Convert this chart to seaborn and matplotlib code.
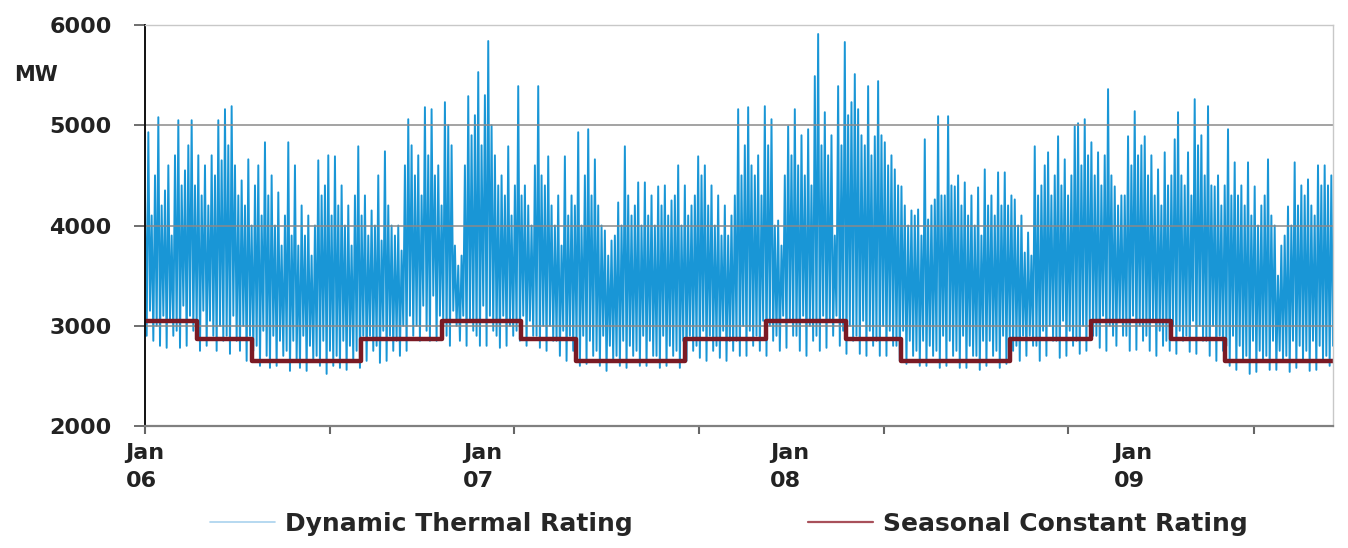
import numpy as np
import pandas as pd
import matplotlib
matplotlib.use("Agg")
import matplotlib.pyplot as plt
import seaborn as sns
from matplotlib.lines import Line2D

# ---------------- data ----------------
start_date = "2006-01-01"
end_date = "2009-08-31"

dtr_mw = [
    4300, 2900, 4930, 3150, 4100, 2850,  4500, 3000, 5080, 2800, 4200, 3100,
    4350, 2780, 4600, 3050, 3900, 2900,  4700, 2950, 5050, 2780, 4400, 3200,
    4550, 2800, 4800, 3100, 5050, 2950,  4400, 3000, 4700, 2750, 4300, 3150,
    4600, 2800, 4200, 3050, 4700, 2900,  4500, 2750, 5050, 3000, 4650, 2850,
    5160, 2900, 4800, 2720, 5190, 3100,  4600, 2850, 4300, 2750, 4450, 3000,
    4200, 2650, 4660, 2900, 4000, 2750,  4400, 2800, 4600, 2600, 4100, 2950,
    4830, 2700, 4300, 2580, 4500, 2900,  4000, 2600, 4330, 2850, 3800, 2700,
    4100, 2750, 4830, 2550, 3900, 2850,  4600, 2650, 3800, 2580, 4200, 2900,
    3900, 2550, 4100, 2800, 3700, 2650,  4000, 2700, 4650, 2600, 4300, 2850,
    4400, 2520, 4700, 2750, 4100, 2600,  4690, 2700, 4200, 2580, 4400, 2850,
    4000, 2560, 4200, 2800, 3800, 2650,  4300, 2750, 4790, 2580, 4100, 2900,
    4300, 2650, 3900, 2900, 4150, 2750,  4000, 2800, 4500, 2630, 3850, 2950,
    4740, 2650, 4200, 2900, 4000, 2750,  3900, 2850, 4000, 2700, 3750, 3000,
    4600, 2750, 5060, 3100, 4800, 2900,  4500, 3000, 4700, 2850, 4300, 3200,
    5180, 2950, 4700, 2850, 5160, 3300,  4500, 2850, 4600, 3100, 4200, 3000,
    5230, 2900, 5000, 2800, 4800, 3150,  3800, 3000, 3600, 2850, 3700, 3100,
    4600, 2800, 5290, 3050, 4900, 2950,  5100, 2900, 5530, 2800, 4800, 3200,
    5300, 2800, 5840, 3100, 5000, 2950,  4700, 2900, 4400, 2780, 4500, 3100,
    4300, 2800, 4790, 3000, 4100, 2900,  4400, 2950, 5390, 2850, 4300, 3100,
    4400, 2800, 4200, 3050, 4000, 2900,  4600, 2900, 5390, 2780, 4500, 3000,
    4400, 2750, 4690, 3000, 4200, 2850,  4000, 2850, 4300, 2700, 3800, 2950,
    4690, 2650, 4100, 2900, 4300, 2750,  4200, 2800, 4930, 2600, 4000, 2900,
    4500, 2620, 4960, 2850, 4300, 2700,  4660, 2750, 4200, 2600, 4000, 2900,
    3950, 2550, 3700, 2800, 3850, 2650,  3900, 2700, 4230, 2600, 4000, 2850,
    4790, 2580, 4300, 2800, 4100, 2700,  4200, 2750, 4430, 2600, 4000, 2900,
    4430, 2600, 4100, 2850, 4300, 2700,  4000, 2700, 4390, 2580, 4200, 2900,
    4400, 2600, 4100, 2800, 4250, 2700,  4300, 2750, 4600, 2580, 4000, 2850,
    4400, 2650, 4100, 2900, 4200, 2750,  4300, 2800, 4690, 2680, 4500, 2950,
    4600, 2650, 4200, 2900, 4400, 2750,  4000, 2800, 4300, 2680, 3900, 2950,
    4200, 2650, 3900, 2850, 4100, 2750,  4300, 2850, 5160, 2700, 4500, 3000,
    4800, 2700, 5180, 2950, 4600, 2800,  4500, 2900, 4700, 2750, 4300, 3050,
    5190, 2700, 4800, 3000, 5060, 2850,  4000, 2900, 4050, 2750, 3800, 3100,
    4500, 2780, 4990, 3050, 4700, 2900,  5160, 2900, 4600, 2750, 4900, 3100,
    4500, 2700, 4960, 3000, 4400, 2850,  5490, 2900, 5910, 2750, 4800, 3100,
    5130, 2780, 4700, 3050, 4900, 2900,  3900, 3100, 5390, 2800, 4800, 2950,
    5830, 2720, 5100, 3000, 5230, 2850,  5510, 2900, 5160, 2720, 4900, 3050,
    4800, 2700, 5390, 2950, 4700, 2800,  4890, 2850, 5440, 2700, 4900, 3000,
    4830, 2700, 4600, 2950, 4700, 2800,  4560, 2800, 4400, 2650, 4390, 2950,
    4200, 2620, 4000, 2850, 4150, 2700,  4100, 2750, 4160, 2600, 3900, 2850,
    4860, 2600, 4060, 2800, 4200, 2700,  4260, 2750, 5090, 2580, 4300, 2900,
    4300, 2600, 5090, 2850, 4400, 2700,  4390, 2750, 4500, 2580, 4200, 2900,
    4430, 2580, 4100, 2800, 4300, 2700,  4000, 2700, 4380, 2560, 3900, 2850,
    4560, 2600, 4200, 2850, 4300, 2700,  4100, 2750, 4530, 2580, 4200, 2900,
    4530, 2620, 4200, 2850, 4300, 2750,  4260, 2800, 4000, 2650, 4100, 2900,
    3730, 2700, 3930, 2900, 3700, 2800,  4790, 2800, 4300, 2650, 4400, 2950,
    4600, 2700, 4730, 3000, 4300, 2850,  4500, 2850, 4890, 2680, 4400, 3050,
    4660, 2700, 4300, 2950, 4500, 2800,  4990, 2850, 5020, 2720, 4600, 3000,
    5060, 2750, 4700, 3050, 4830, 2900,  4500, 2900, 4730, 2780, 4400, 3100,
    4700, 2750, 5360, 3000, 4500, 2900,  4390, 2800, 4200, 3050, 4300, 2900,
    4300, 2900, 4890, 2750, 4600, 3100,  5140, 2760, 4700, 3000, 4800, 2850,
    4890, 2900, 4500, 2750, 4700, 3050,  4300, 2700, 4560, 2950, 4200, 2800,
    4730, 2850, 4400, 2750, 4500, 3000,  4860, 2720, 5130, 2950, 4500, 2850,
    4400, 2900, 4730, 2740, 4300, 3050,  5260, 2720, 4800, 3000, 4900, 2850,
    4500, 2850, 5190, 2700, 4400, 3000,  4390, 2650, 4500, 2900, 4200, 2750,
    4400, 2800, 4960, 2600, 4300, 2900,  4630, 2560, 4300, 2800, 4400, 2650,
    4200, 2700, 4630, 2520, 4100, 2850,  4390, 2540, 4000, 2750, 4200, 2650,
    4300, 2700, 4660, 2560, 4100, 2850,  4000, 2560, 3500, 2750, 3800, 2650,
    3900, 2700, 4190, 2540, 4000, 2850,  4630, 2580, 4200, 2800, 4400, 2650,
    4300, 2750, 4460, 2550, 4200, 2850,  4100, 2560, 4600, 2800, 4400, 2650,
    4600, 2700, 4400, 2600, 4500, 2800,
]

season_starts = [
    "2006-01-01", "2006-03-01", "2006-05-01", "2006-09-01",
    "2006-12-01", "2007-03-01", "2007-05-01", "2007-09-01",
    "2007-12-01", "2008-03-01", "2008-05-01", "2008-09-01",
    "2008-12-01", "2009-03-01", "2009-05-01", "2009-08-31",
]
season_mw = [
    3050, 2870, 2650, 2870,
    3050, 2870, 2650, 2870,
    3050, 2870, 2650, 2870,
    3050, 2870, 2650, 2650,
]

tick_dates = ["2006-01-01", "2006-07-28", "2007-02-21", "2007-09-17",
              "2008-04-12", "2008-11-06", "2009-06-03"]
label_dates = ["2006-01-01", "2007-01-16", "2007-12-28", "2009-01-18"]
label_texts = ["Jan\n06", "Jan\n07", "Jan\n08", "Jan\n09"]
y_ticks = [2000, 3000, 4000, 5000, 6000]
series_names = ["Dynamic Thermal Rating", "Seasonal Constant Rating"]

# ---------------- style ----------------
sns.set_theme(style="white")
plt.rcParams["font.family"] = ["DejaVu Sans"]

blue = "#1996d6"
maroon = "#7a1a24"

dtr = pd.DataFrame({
    "date": pd.date_range(start_date, end_date, periods=len(dtr_mw)),
    "MW": dtr_mw,
})
scr = pd.DataFrame({"date": pd.to_datetime(season_starts), "MW": season_mw})

fig = plt.figure(figsize=(13.48, 5.48), dpi=100)
ax = fig.add_axes([145 / 1348, 1 - 426 / 548, (1333 - 145) / 1348, (426 - 25) / 548])

sns.lineplot(data=dtr, x="date", y="MW", ax=ax, color=blue, linewidth=1.4,
             estimator=None, sort=False, legend=False, zorder=2)
sns.lineplot(data=scr, x="date", y="MW", ax=ax, color=maroon, linewidth=3.2,
             drawstyle="steps-post", estimator=None, legend=False, zorder=3)

ax.set_xlim(pd.Timestamp(start_date), pd.Timestamp(end_date))
ax.set_ylim(2000, 6000)
ax.set_xlabel("")
ax.set_ylabel("")

# y axis
ax.set_yticks(y_ticks)
ax.set_yticklabels([str(v) for v in y_ticks], fontsize=16, fontweight="bold", color="#222222")
ax.tick_params(axis="y", which="major", length=8, width=1.2, color="#555555", pad=16, left=True)
ax.set_axisbelow(False)
ax.yaxis.grid(True, color="#8a8a8a", linewidth=1.1, zorder=2.5)
ax.xaxis.grid(False)

# x axis: tick marks + separate label positions
ax.xaxis.remove_overlapping_locs = False
ax.set_xticks(pd.to_datetime(tick_dates))
ax.set_xticklabels([""] * len(tick_dates))
ax.set_xticks(pd.to_datetime(label_dates), minor=True)
ax.set_xticklabels(label_texts, minor=True, fontsize=16, fontweight="bold",
                   color="#222222", linespacing=1.5)
for lab in ax.get_xticklabels(minor=True):
    lab.set_multialignment("left")
ax.tick_params(axis="x", which="major", length=6, width=1.5, color="#666666", bottom=True)
ax.tick_params(axis="x", which="minor", length=0, pad=12, bottom=True)

for side in ["top", "right"]:
    ax.spines[side].set_color("#c8c8c8")
    ax.spines[side].set_linewidth(1.0)
ax.spines["left"].set_color("#111111")
ax.spines["left"].set_linewidth(1.4)
ax.spines["bottom"].set_color("#808080")
ax.spines["bottom"].set_linewidth(1.6)
for sp in ax.spines.values():
    sp.set_zorder(4)

fig.text(14 / 1348, 1 - 75 / 548, "MW", fontsize=15, fontweight="bold",
         color="#222222", ha="left", va="center")

handles = [Line2D([], [], color="#a9d2ee", linewidth=1.2),
           Line2D([], [], color="#a8505a", linewidth=1.6)]
fig.legend(handles, series_names, loc="center left",
           bbox_to_anchor=(200 / 1348, 1 - 524 / 548), ncol=2, frameon=False,
           prop={"size": 18, "weight": "bold"}, handlelength=2.6,
           handletextpad=0.4, columnspacing=7.0, borderaxespad=0)

fig.savefig("out.png", dpi=100, facecolor="white")
